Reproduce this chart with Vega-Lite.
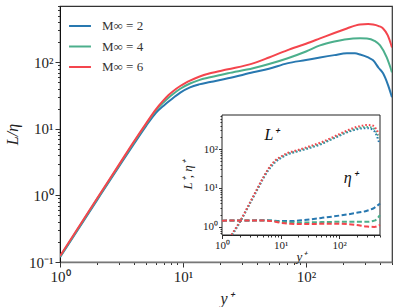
{
  "$schema": "https://vega.github.io/schema/vega-lite/v6.json",
  "width": 332,
  "height": 256,
  "autosize": "none",
  "padding": {"left": 60, "top": 6, "right": 7, "bottom": 45},
  "background": "white",
  "config": {
    "view": {"stroke": "#333", "strokeWidth": 1.2},
    "font": "Liberation Serif",
    "axis": {"grid": false, "domainColor": "#333", "tickColor": "#333", "labelColor": "#222", "titleColor": "#222", "labelFont": "Liberation Serif", "titleFont": "Liberation Serif", "labelOverlap": false, "labelBound": false, "labelFlush": false}
  },
  "datasets": {
    "main": [
      {"y": 1, "L": 0.118, "M": "M∞ = 2"}, {"y": 2, "L": 0.85, "M": "M∞ = 2"}, {"y": 3, "L": 2.68, "M": "M∞ = 2"}, {"y": 4, "L": 6.0, "M": "M∞ = 2"}, {"y": 5, "L": 11.0, "M": "M∞ = 2"}, {"y": 6, "L": 17.3, "M": "M∞ = 2"}, {"y": 7, "L": 22.5, "M": "M∞ = 2"}, {"y": 8.3, "L": 29, "M": "M∞ = 2"}, {"y": 9.5, "L": 35, "M": "M∞ = 2"}, {"y": 11.4, "L": 42, "M": "M∞ = 2"}, {"y": 13.5, "L": 46.5, "M": "M∞ = 2"}, {"y": 16.6, "L": 50.5, "M": "M∞ = 2"}, {"y": 23.2, "L": 57.4, "M": "M∞ = 2"}, {"y": 37.1, "L": 70.6, "M": "M∞ = 2"}, {"y": 50, "L": 80, "M": "M∞ = 2"}, {"y": 70.1, "L": 96.3, "M": "M∞ = 2"}, {"y": 100, "L": 108, "M": "M∞ = 2"}, {"y": 130, "L": 118, "M": "M∞ = 2"}, {"y": 170, "L": 128, "M": "M∞ = 2"}, {"y": 215, "L": 136, "M": "M∞ = 2"}, {"y": 250, "L": 136, "M": "M∞ = 2"}, {"y": 275, "L": 131, "M": "M∞ = 2"}, {"y": 320, "L": 118, "M": "M∞ = 2"}, {"y": 351, "L": 107, "M": "M∞ = 2"}, {"y": 390, "L": 82, "M": "M∞ = 2"}, {"y": 423, "L": 68.2, "M": "M∞ = 2"}, {"y": 462, "L": 46.6, "M": "M∞ = 2"}, {"y": 500, "L": 29.8, "M": "M∞ = 2"},
      {"y": 1, "L": 0.12, "M": "M∞ = 4"}, {"y": 2, "L": 0.88, "M": "M∞ = 4"}, {"y": 3, "L": 2.78, "M": "M∞ = 4"}, {"y": 4, "L": 6.3, "M": "M∞ = 4"}, {"y": 5, "L": 11.6, "M": "M∞ = 4"}, {"y": 6, "L": 18.8, "M": "M∞ = 4"}, {"y": 7, "L": 25.3, "M": "M∞ = 4"}, {"y": 7.55, "L": 28.8, "M": "M∞ = 4"}, {"y": 8.3, "L": 33.3, "M": "M∞ = 4"}, {"y": 9.5, "L": 40, "M": "M∞ = 4"}, {"y": 11.4, "L": 48, "M": "M∞ = 4"}, {"y": 13.5, "L": 54, "M": "M∞ = 4"}, {"y": 16.6, "L": 59.4, "M": "M∞ = 4"}, {"y": 23.2, "L": 68.2, "M": "M∞ = 4"}, {"y": 37.1, "L": 81.1, "M": "M∞ = 4"}, {"y": 50, "L": 94, "M": "M∞ = 4"}, {"y": 70.1, "L": 114, "M": "M∞ = 4"}, {"y": 100, "L": 145, "M": "M∞ = 4"}, {"y": 130, "L": 179, "M": "M∞ = 4"}, {"y": 170, "L": 205, "M": "M∞ = 4"}, {"y": 241, "L": 228, "M": "M∞ = 4"}, {"y": 275, "L": 230, "M": "M∞ = 4"}, {"y": 313, "L": 228, "M": "M∞ = 4"}, {"y": 360, "L": 210, "M": "M∞ = 4"}, {"y": 400, "L": 179, "M": "M∞ = 4"}, {"y": 453, "L": 118, "M": "M∞ = 4"}, {"y": 500, "L": 70.6, "M": "M∞ = 4"},
      {"y": 1, "L": 0.123, "M": "M∞ = 6"}, {"y": 2, "L": 0.9, "M": "M∞ = 6"}, {"y": 3, "L": 2.85, "M": "M∞ = 6"}, {"y": 4, "L": 6.5, "M": "M∞ = 6"}, {"y": 5, "L": 12.0, "M": "M∞ = 6"}, {"y": 6, "L": 19.5, "M": "M∞ = 6"}, {"y": 6.9, "L": 26.5, "M": "M∞ = 6"}, {"y": 7.6, "L": 32, "M": "M∞ = 6"}, {"y": 8.3, "L": 36.8, "M": "M∞ = 6"}, {"y": 9.5, "L": 44, "M": "M∞ = 6"}, {"y": 10.5, "L": 49, "M": "M∞ = 6"}, {"y": 11.4, "L": 53, "M": "M∞ = 6"}, {"y": 13.5, "L": 60.5, "M": "M∞ = 6"}, {"y": 16.6, "L": 68.2, "M": "M∞ = 6"}, {"y": 23.2, "L": 78.3, "M": "M∞ = 6"}, {"y": 37.1, "L": 96.3, "M": "M∞ = 6"}, {"y": 50, "L": 118, "M": "M∞ = 6"}, {"y": 70.1, "L": 151, "M": "M∞ = 6"}, {"y": 100, "L": 190, "M": "M∞ = 6"}, {"y": 130, "L": 228, "M": "M∞ = 6"}, {"y": 170, "L": 275, "M": "M∞ = 6"}, {"y": 215, "L": 322, "M": "M∞ = 6"}, {"y": 250, "L": 355, "M": "M∞ = 6"}, {"y": 275, "L": 370, "M": "M∞ = 6"}, {"y": 320, "L": 375, "M": "M∞ = 6"}, {"y": 351, "L": 370, "M": "M∞ = 6"}, {"y": 390, "L": 350, "M": "M∞ = 6"}, {"y": 423, "L": 322, "M": "M∞ = 6"}, {"y": 462, "L": 253, "M": "M∞ = 6"}, {"y": 500, "L": 167, "M": "M∞ = 6"}
    ],
    "lplus": [
      {"y": 1.5, "v": 0.63, "M": "M∞ = 2"}, {"y": 2, "v": 1.28, "M": "M∞ = 2"}, {"y": 3, "v": 4.0, "M": "M∞ = 2"}, {"y": 4, "v": 9, "M": "M∞ = 2"}, {"y": 5, "v": 17, "M": "M∞ = 2"}, {"y": 6, "v": 27, "M": "M∞ = 2"}, {"y": 7, "v": 36, "M": "M∞ = 2"}, {"y": 8, "v": 45, "M": "M∞ = 2"}, {"y": 10, "v": 58, "M": "M∞ = 2"}, {"y": 12.9, "v": 72, "M": "M∞ = 2"}, {"y": 20, "v": 88, "M": "M∞ = 2"}, {"y": 28.3, "v": 102, "M": "M∞ = 2"}, {"y": 50, "v": 135, "M": "M∞ = 2"}, {"y": 78.9, "v": 185, "M": "M∞ = 2"}, {"y": 130, "v": 260, "M": "M∞ = 2"}, {"y": 228, "v": 335, "M": "M∞ = 2"}, {"y": 300, "v": 345, "M": "M∞ = 2"}, {"y": 370, "v": 320, "M": "M∞ = 2"}, {"y": 430, "v": 240, "M": "M∞ = 2"}, {"y": 480, "v": 150, "M": "M∞ = 2"},
      {"y": 1.48, "v": 0.63, "M": "M∞ = 4"}, {"y": 2, "v": 1.3, "M": "M∞ = 4"}, {"y": 3, "v": 4.1, "M": "M∞ = 4"}, {"y": 4, "v": 9.3, "M": "M∞ = 4"}, {"y": 5, "v": 17.5, "M": "M∞ = 4"}, {"y": 6, "v": 28, "M": "M∞ = 4"}, {"y": 7, "v": 38, "M": "M∞ = 4"}, {"y": 8, "v": 48, "M": "M∞ = 4"}, {"y": 10, "v": 60, "M": "M∞ = 4"}, {"y": 12.9, "v": 74, "M": "M∞ = 4"}, {"y": 20, "v": 90, "M": "M∞ = 4"}, {"y": 28.3, "v": 105, "M": "M∞ = 4"}, {"y": 50, "v": 140, "M": "M∞ = 4"}, {"y": 78.9, "v": 190, "M": "M∞ = 4"}, {"y": 130, "v": 270, "M": "M∞ = 4"}, {"y": 228, "v": 355, "M": "M∞ = 4"}, {"y": 300, "v": 370, "M": "M∞ = 4"}, {"y": 370, "v": 355, "M": "M∞ = 4"}, {"y": 430, "v": 280, "M": "M∞ = 4"}, {"y": 480, "v": 190, "M": "M∞ = 4"},
      {"y": 1.45, "v": 0.63, "M": "M∞ = 6"}, {"y": 2, "v": 1.35, "M": "M∞ = 6"}, {"y": 3, "v": 4.2, "M": "M∞ = 6"}, {"y": 4, "v": 9.6, "M": "M∞ = 6"}, {"y": 5, "v": 18, "M": "M∞ = 6"}, {"y": 6, "v": 29, "M": "M∞ = 6"}, {"y": 7, "v": 40, "M": "M∞ = 6"}, {"y": 8, "v": 50, "M": "M∞ = 6"}, {"y": 10, "v": 63, "M": "M∞ = 6"}, {"y": 12.9, "v": 78, "M": "M∞ = 6"}, {"y": 20, "v": 95, "M": "M∞ = 6"}, {"y": 28.3, "v": 112, "M": "M∞ = 6"}, {"y": 50, "v": 150, "M": "M∞ = 6"}, {"y": 78.9, "v": 203, "M": "M∞ = 6"}, {"y": 130, "v": 290, "M": "M∞ = 6"}, {"y": 228, "v": 390, "M": "M∞ = 6"}, {"y": 300, "v": 415, "M": "M∞ = 6"}, {"y": 370, "v": 405, "M": "M∞ = 6"}, {"y": 430, "v": 330, "M": "M∞ = 6"}, {"y": 480, "v": 240, "M": "M∞ = 6"}
    ],
    "eta": [
      {"y": 1, "v": 1.45, "M": "M∞ = 2"}, {"y": 3, "v": 1.47, "M": "M∞ = 2"}, {"y": 6, "v": 1.48, "M": "M∞ = 2"}, {"y": 10, "v": 1.42, "M": "M∞ = 2"}, {"y": 15, "v": 1.42, "M": "M∞ = 2"}, {"y": 25, "v": 1.5, "M": "M∞ = 2"}, {"y": 50, "v": 1.7, "M": "M∞ = 2"}, {"y": 100, "v": 1.95, "M": "M∞ = 2"}, {"y": 200, "v": 2.3, "M": "M∞ = 2"}, {"y": 300, "v": 2.6, "M": "M∞ = 2"}, {"y": 400, "v": 3.1, "M": "M∞ = 2"}, {"y": 500, "v": 4.0, "M": "M∞ = 2"},
      {"y": 1, "v": 1.45, "M": "M∞ = 4"}, {"y": 3, "v": 1.47, "M": "M∞ = 4"}, {"y": 6, "v": 1.47, "M": "M∞ = 4"}, {"y": 10, "v": 1.35, "M": "M∞ = 4"}, {"y": 15, "v": 1.3, "M": "M∞ = 4"}, {"y": 25, "v": 1.3, "M": "M∞ = 4"}, {"y": 50, "v": 1.33, "M": "M∞ = 4"}, {"y": 100, "v": 1.35, "M": "M∞ = 4"}, {"y": 200, "v": 1.35, "M": "M∞ = 4"}, {"y": 300, "v": 1.35, "M": "M∞ = 4"}, {"y": 400, "v": 1.45, "M": "M∞ = 4"}, {"y": 500, "v": 2.0, "M": "M∞ = 4"},
      {"y": 1, "v": 1.45, "M": "M∞ = 6"}, {"y": 3, "v": 1.47, "M": "M∞ = 6"}, {"y": 6, "v": 1.45, "M": "M∞ = 6"}, {"y": 10, "v": 1.28, "M": "M∞ = 6"}, {"y": 15, "v": 1.2, "M": "M∞ = 6"}, {"y": 25, "v": 1.18, "M": "M∞ = 6"}, {"y": 50, "v": 1.2, "M": "M∞ = 6"}, {"y": 100, "v": 1.2, "M": "M∞ = 6"}, {"y": 200, "v": 1.12, "M": "M∞ = 6"}, {"y": 300, "v": 1.02, "M": "M∞ = 6"}, {"y": 400, "v": 1.0, "M": "M∞ = 6"}, {"y": 500, "v": 1.12, "M": "M∞ = 6"}
    ]
  },
  "layer": [
    {
      "data": {"name": "main"},
      "mark": {"type": "line", "strokeWidth": 2, "clip": true, "interpolate": "monotone"},
      "encoding": {
        "x": {"field": "y", "type": "quantitative", "scale": {"type": "log", "domain": [1, 500], "nice": false},
          "axis": {"orient": "bottom", "values": [1,2,3,4,5,6,7,8,9,10,20,30,40,50,60,70,80,90,100,200,300,400,500],
            "labelExpr": "datum.value==1?'10⁰':datum.value==10?'10¹':datum.value==100?'10²':''",
            "tickSize": {"condition": {"test": "indexof([1,10,100],datum.value)>=0", "value": 5}, "value": 2.5},
            "labelFontSize": 15, "labelPadding": 2, "domainColor": "#777", "domainWidth": 1.5,
            "title": "y⁺", "titleFontSize": 16, "titleFontStyle": "italic", "titleFontWeight": "normal", "titlePadding": 6}},
        "y": {"field": "L", "type": "quantitative", "scale": {"type": "log", "domain": [0.1, 700], "nice": false},
          "axis": {"orient": "left", "values": [0.1,0.2,0.3,0.4,0.5,0.6,0.7,0.8,0.9,1,2,3,4,5,6,7,8,9,10,20,30,40,50,60,70,80,90,100,200,300,400,500,600,700],
            "labelExpr": "datum.value==0.1?'10⁻¹':datum.value==1?'10⁰':datum.value==10?'10¹':datum.value==100?'10²':''",
            "tickSize": {"condition": {"test": "indexof([0.1,1,10,100],datum.value)>=0", "value": 5}, "value": 2.5},
            "labelFontSize": 15, "labelPadding": 2, "domainColor": "#111",
            "title": "L/η", "titleFontSize": 16, "titleFontStyle": "italic", "titleFontWeight": "normal", "titlePadding": 8}},
        "color": {"field": "M", "type": "nominal",
          "scale": {"domain": ["M∞ = 2", "M∞ = 4", "M∞ = 6"], "range": ["#2878b0", "#4caf8c", "#f4454d"]},
          "legend": {"orient": "none", "legendX": 8, "legendY": 8, "title": null, "symbolType": "stroke", "symbolSize": 480, "symbolStrokeWidth": 2, "labelFontSize": 13, "labelFont": "Liberation Serif", "labelColor": "#333", "rowPadding": 1.5, "labelOffset": 10}}
      }
    },
    {
      "layer": [
        {
          "data": {"values": [{}]},
          "mark": {"type": "rect", "fill": "white", "stroke": "#222", "strokeWidth": 1},
          "encoding": {
            "x": {"datum": 1, "type": "quantitative", "scale": {"type": "log", "domain": [1, 500], "nice": false, "range": [162, 320]},
              "axis": {"orient": "bottom", "offset": -27, "values": [1,2,3,4,5,6,7,8,9,10,20,30,40,50,60,70,80,90,100,200,300,400,500],
                "labelExpr": "datum.value==1?'10⁰':datum.value==10?'10¹':datum.value==100?'10²':''",
                "tickSize": {"condition": {"test": "indexof([1,10,100],datum.value)>=0", "value": 3.5}, "value": 2},
                "labelFontSize": 11, "labelPadding": 1, "domainColor": "#222",
                "title": "y⁺", "titleFontSize": 13, "titleFontStyle": "italic", "titleFontWeight": "normal", "titlePadding": 0}},
            "x2": {"datum": 500},
            "y": {"datum": 0.62, "type": "quantitative", "scale": {"type": "log", "domain": [0.62, 750], "nice": false, "range": [229, 109]},
              "axis": {"orient": "left", "offset": -162, "values": [0.7,0.8,0.9,1,2,3,4,5,6,7,8,9,10,20,30,40,50,60,70,80,90,100,200,300,400,500,600,700],
                "labelExpr": "datum.value==1?'10⁰':datum.value==10?'10¹':datum.value==100?'10²':''",
                "tickSize": {"condition": {"test": "indexof([1,10,100],datum.value)>=0", "value": 3.5}, "value": 2},
                "labelFontSize": 11, "labelPadding": 1, "domainColor": "#222",
                "title": "L⁺, η⁺", "titleFontSize": 13, "titleFontStyle": "italic", "titleFontWeight": "normal", "titlePadding": 8}},
            "y2": {"datum": 750}
          }
        },
        {
          "data": {"name": "lplus"},
          "mark": {"type": "line", "strokeWidth": 2, "strokeDash": [1.6, 2], "interpolate": "monotone"},
          "encoding": {
            "x": {"field": "y", "type": "quantitative"},
            "y": {"field": "v", "type": "quantitative"},
            "color": {"field": "M", "type": "nominal", "legend": null}
          }
        },
        {
          "data": {"name": "eta"},
          "mark": {"type": "line", "strokeWidth": 2, "strokeDash": [5, 2.5], "interpolate": "monotone"},
          "encoding": {
            "x": {"field": "y", "type": "quantitative"},
            "y": {"field": "v", "type": "quantitative"},
            "color": {"field": "M", "type": "nominal", "legend": null}
          }
        },
        {
          "data": {"values": [{}]},
          "mark": {"type": "text", "text": "L⁺", "fontSize": 16, "fontStyle": "italic", "font": "Liberation Serif", "color": "#111"},
          "encoding": {"x": {"datum": 7, "type": "quantitative"}, "y": {"datum": 230, "type": "quantitative"}}
        },
        {
          "data": {"values": [{}]},
          "mark": {"type": "text", "text": "η⁺", "fontSize": 16, "fontStyle": "italic", "font": "Liberation Serif", "color": "#111"},
          "encoding": {"x": {"datum": 155, "type": "quantitative"}, "y": {"datum": 18, "type": "quantitative"}}
        }
      ]
    }
  ],
  "resolve": {"scale": {"x": "independent", "y": "independent"}, "axis": {"x": "independent", "y": "independent"}}
}
